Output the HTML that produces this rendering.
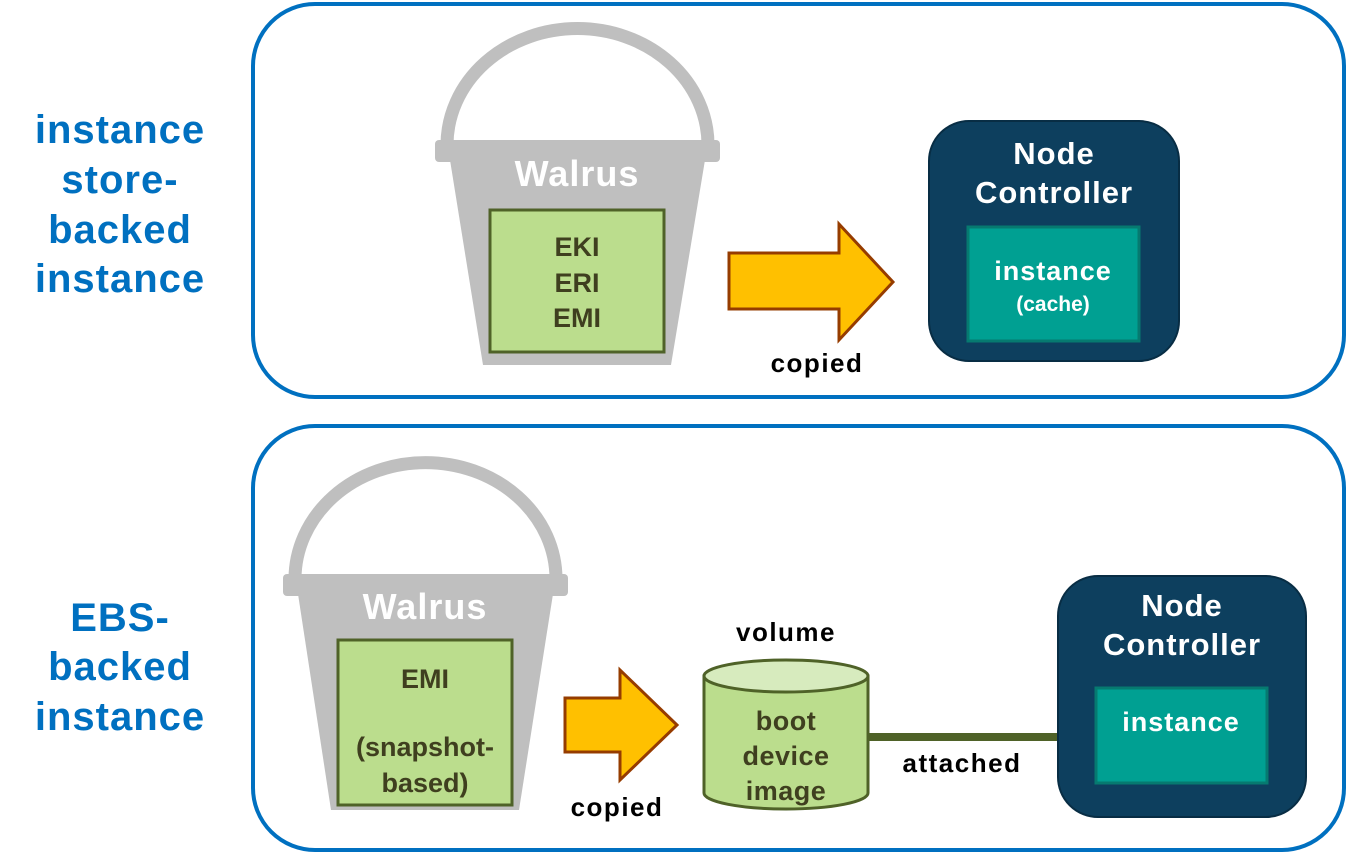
<!DOCTYPE html>
<html><head><meta charset="utf-8"><style>
html,body{margin:0;padding:0;background:#fff;}
svg{display:block;font-family:"Liberation Sans",Arial,sans-serif;font-weight:bold;}
</style></head><body>
<svg width="1348" height="854" viewBox="0 0 1348 854">
<rect x="253" y="4" width="1091" height="393" rx="62" fill="#fff" stroke="#0070C0" stroke-width="4"/>
<rect x="253" y="426" width="1091" height="424" rx="62" fill="#fff" stroke="#0070C0" stroke-width="4"/>
<g fill="#0070C0" font-size="40" text-anchor="middle" letter-spacing="1">
<text x="120" y="143">instance</text><text x="120" y="193">store-</text><text x="120" y="243">backed</text><text x="120" y="292">instance</text>
<text x="120" y="631">EBS-</text><text x="120" y="680">backed</text><text x="120" y="730">instance</text>
</g>
<!-- top bucket -->
<path d="M447 145 A130 116 0 0 1 708 145" fill="none" stroke="#BFBFBF" stroke-width="13"/>
<rect x="435" y="140" width="285" height="22" rx="4" fill="#BFBFBF"/>
<path d="M450 160 L705 160 L671 365 L483 365 Z" fill="#BFBFBF"/>
<text x="577" y="186" fill="#fff" font-size="36" text-anchor="middle" letter-spacing="1">Walrus</text>
<rect x="490" y="210" width="174" height="142" fill="#BBDD8D" stroke="#4F6228" stroke-width="3"/>
<g fill="#3F3F1F" font-size="27" text-anchor="middle"><text x="577" y="256">EKI</text><text x="577" y="292">ERI</text><text x="577" y="327">EMI</text></g>
<path d="M729 253 L839 253 L839 224 L893 282 L839 340 L839 309 L729 309 Z" fill="#FFC000" stroke="#963C00" stroke-width="3"/>
<text x="817" y="372" font-size="26" text-anchor="middle" letter-spacing="1.5">copied</text>
<rect x="929" y="121" width="250" height="240" rx="40" fill="#0D3F5E" stroke="#082d44" stroke-width="2"/>
<g fill="#fff" text-anchor="middle" font-size="31" letter-spacing="1"><text x="1054" y="164">Node</text><text x="1054" y="203">Controller</text></g>
<rect x="968" y="227" width="171" height="114" fill="#00A092" stroke="#067a70" stroke-width="3"/>
<g fill="#fff" text-anchor="middle"><text x="1053" y="280" font-size="27" letter-spacing="1">instance</text><text x="1053" y="311" font-size="21">(cache)</text></g>
<!-- bottom bucket -->
<path d="M295 579 A130 116 0 0 1 556 579" fill="none" stroke="#BFBFBF" stroke-width="13"/>
<rect x="283" y="574" width="285" height="22" rx="4" fill="#BFBFBF"/>
<path d="M298 594 L553 594 L519 810 L331 810 Z" fill="#BFBFBF"/>
<text x="425" y="619" fill="#fff" font-size="36" text-anchor="middle" letter-spacing="1">Walrus</text>
<rect x="338" y="640" width="174" height="165" fill="#BBDD8D" stroke="#4F6228" stroke-width="3"/>
<g fill="#3F3F1F" font-size="27" text-anchor="middle"><text x="425" y="688">EMI</text><text x="425" y="756">(snapshot-</text><text x="425" y="792">based)</text></g>
<path d="M565 698 L620 698 L620 670 L677 725 L620 780 L620 752 L565 752 Z" fill="#FFC000" stroke="#963C00" stroke-width="3"/>
<text x="617" y="816" font-size="26" text-anchor="middle" letter-spacing="1.5">copied</text>
<text x="786" y="641" font-size="26" text-anchor="middle" letter-spacing="1.5">volume</text>
<path d="M704 676 L704 793 A82 16 0 0 0 868 793 L868 676 Z" fill="#BBDD8D" stroke="#4F6228" stroke-width="3"/>
<ellipse cx="786" cy="676" rx="82" ry="16" fill="#D7EBBE" stroke="#4F6228" stroke-width="3"/>
<g fill="#3F3F1F" font-size="27" text-anchor="middle" letter-spacing="0.5"><text x="786" y="730">boot</text><text x="786" y="765">device</text><text x="786" y="800">image</text></g>
<line x1="868" y1="737" x2="1097" y2="737" stroke="#4F6228" stroke-width="8"/>
<text x="962" y="772" font-size="26" text-anchor="middle" letter-spacing="1.5">attached</text>
<rect x="1058" y="576" width="248" height="241" rx="40" fill="#0D3F5E" stroke="#082d44" stroke-width="2"/>
<g fill="#fff" text-anchor="middle" font-size="31" letter-spacing="1"><text x="1182" y="616">Node</text><text x="1182" y="655">Controller</text></g>
<rect x="1096" y="688" width="171" height="95" fill="#00A092" stroke="#067a70" stroke-width="3"/>
<text x="1181" y="731" fill="#fff" font-size="27" text-anchor="middle" letter-spacing="1">instance</text>
</svg>
</body></html>
